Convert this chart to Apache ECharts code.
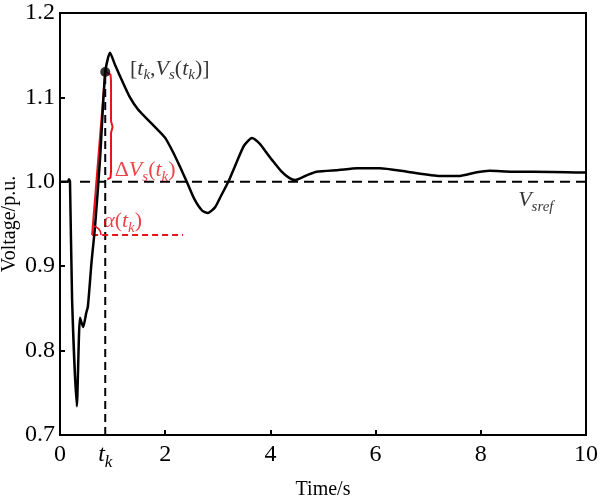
<!DOCTYPE html>
<html>
<head>
<meta charset="utf-8">
<script src="https://cdn.jsdelivr.net/npm/echarts@6.0.0/dist/echarts.min.js"></script>
<style>
  html, body { margin: 0; padding: 0; background: #fff; }
  #main { width: 600px; height: 501px; }
</style>
</head>
<body>
<div id="main"></div>
<script>
// voltage response
const timeS = [0, 0.1, 0.15, 0.17, 0.19, 0.23, 0.32, 0.38, 0.44, 0.5, 0.53, 0.6, 0.665, 0.76, 0.86,
  0.95, 1.05, 1.2, 1.33, 1.48, 1.71, 1.85, 2.0, 2.15, 2.28, 2.41, 2.55, 2.7, 2.81, 2.95, 3.05,
  3.2, 3.35, 3.5, 3.65, 3.8, 3.92, 4.03, 4.2, 4.35, 4.47, 4.7, 4.88, 5.3, 5.65, 6.08, 6.6,
  7.22, 7.6, 7.9, 8.17, 8.6, 9.0, 10];
const voltage = [1.0, 1.0, 1.0, 1.003, 1.0, 0.86, 0.734, 0.839, 0.828, 0.845, 0.852, 0.905, 0.946, 1.026, 1.13,
  1.153, 1.138, 1.117, 1.1, 1.086, 1.071, 1.062, 1.052, 1.035, 1.018, 1.0, 0.98, 0.966, 0.963, 0.97, 0.982,
  1.0, 1.022, 1.043, 1.052, 1.045, 1.035, 1.026, 1.013, 1.005, 1.002, 1.008, 1.012, 1.014, 1.016, 1.016, 1.012,
  1.007, 1.007, 1.011, 1.013, 1.012, 1.012, 1.011];

const vRef = 1.0;
const vRefStart = 0.38;
const tK = 0.86;
const vAtTk = 1.13;
const slopeStart = [0.61, 0.937];
const alphaDashEnd = 2.34;
const braceT = [0.88, 0.96, 0.97, 0.97, 1.0, 0.97, 0.97, 0.96, 0.9];
const braceV = [1.13, 1.127, 1.12, 1.072, 1.065, 1.058, 1.012, 1.005, 1.003];

const xTicks = [0, 2, 4, 6, 8, 10];
const yMin = 0.7, yMax = 1.2;

const FONT = 'Liberation Serif';
const RED = '#e8141c';

function richSet(color, size) {
  const sub = Math.round(size * 0.7);
  return {
    n: { fontFamily: FONT, fontSize: size, lineHeight: size + 2, verticalAlign: 'top', color },
    i: { fontFamily: FONT, fontSize: size, lineHeight: size + 2, verticalAlign: 'top', fontStyle: 'italic', color },
    s: { fontFamily: FONT, fontSize: sub, lineHeight: sub, verticalAlign: 'top', fontStyle: 'italic', padding: [Math.round(size * 0.45), 0, 0, 0], color }
  };
}

const curve = timeS.map((t, i) => [t, voltage[i]]);
const brace = braceT.map((t, i) => [t, braceV[i]]);

function seg(data, color, type, width) {
  return {
    type: 'line', data, symbol: 'none', silent: true, z: 3,
    lineStyle: { color, width, type }
  };
}

function note(pos, text, color) {
  return {
    type: 'scatter', symbolSize: 0, silent: true, z: 5,
    data: [pos],
    label: {
      show: true, position: 'right', distance: 0,
      formatter: text, rich: richSet(color, 22)
    }
  };
}

const chart = echarts.init(document.getElementById('main'));

chart.setOption({
  animation: false,
  backgroundColor: '#fff',
  grid: {
    left: 60, right: 14, top: 13, bottom: 66,
    containLabel: false, outerBoundsMode: 'none',
    show: true, borderColor: '#000', borderWidth: 2
  },
  xAxis: {
    type: 'value', min: 0, max: 10, interval: 2,
    name: 'Time/s', nameLocation: 'middle', nameGap: 45, nameMoveOverlap: false,
    nameTextStyle: { fontFamily: FONT, fontSize: 20, color: '#000' },
    axisLine: { show: true, lineStyle: { color: '#000', width: 2 } },
    axisTick: { show: true, inside: true, length: 5, customValues: [2, 4, 6, 8], lineStyle: { color: '#000', width: 2 } },
    axisLabel: {
      customValues: xTicks.concat([tK]),
      margin: 8, fontFamily: FONT, fontSize: 24, color: '#000',
      formatter: v => (Math.abs(v - tK) < 1e-6 ? '{i|t}{s|k}' : String(v)),
      rich: richSet('#000', 24)
    },
    splitLine: { show: false }
  },
  yAxis: {
    type: 'value', min: yMin, max: yMax, interval: 0.1,
    name: 'Voltage/p.u.', nameLocation: 'middle', nameGap: 40, nameMoveOverlap: false,
    nameTextStyle: { fontFamily: FONT, fontSize: 20, color: '#000' },
    axisLine: { show: true, lineStyle: { color: '#000', width: 2 } },
    axisTick: { show: true, inside: true, length: 5, lineStyle: { color: '#000', width: 2 } },
    axisLabel: {
      margin: 5, fontFamily: FONT, fontSize: 24, color: '#000',
      formatter: v => v.toFixed(1)
    },
    splitLine: { show: false }
  },
  series: [
    {
      type: 'line', data: curve, symbol: 'none', smooth: 0.2, z: 4,
      lineStyle: { color: '#000', width: 2.5 }
    },
    seg([[vRefStart, vRef], [10, vRef]], '#000', [10, 6], 2),
    seg([[tK, yMin], [tK, vAtTk]], '#000', [8, 5], 2),
    seg([slopeStart, [tK, vAtTk]], RED, 'solid', 2),
    seg([slopeStart, [alphaDashEnd, slopeStart[1]]], RED, [6, 4], 2),
    seg(brace, RED, 'solid', 2),
    {
      type: 'scatter', data: [[tK, vAtTk]], symbolSize: 10, z: 6, silent: true,
      itemStyle: { color: '#000' }
    },
    note([1.33, 1.1325], '{n|[}{i|t}{s|k}{n|,}{i|V}{s|s}{n|(}{i|t}{s|k}{n|)]}', '#000'),
    note([1.04, 1.012], '{n|Δ}{i|V}{s|s}{n|(}{i|t}{s|k}{n|)}', RED),
    note([0.82, 0.952], '{i|α}{n|(}{i|t}{s|k}{n|)}', RED),
    note([8.71, 0.977], '{i|V}{s|sref}', '#000')
  ]
});

// angle mark at the foot of the slope line
const p0 = chart.convertToPixel({ gridIndex: 0 }, slopeStart);
const p1 = chart.convertToPixel({ gridIndex: 0 }, [tK, vAtTk]);
const ang = Math.atan2(p1[1] - p0[1], p1[0] - p0[0]);
chart.setOption({
  graphic: [{
    type: 'arc', silent: true, z: 10,
    shape: { cx: p0[0], cy: p0[1], r: 9, startAngle: ang, endAngle: 0, clockwise: true },
    style: { stroke: RED, lineWidth: 1.5, fill: 'transparent' }
  }]
});
</script>
</body>
</html>
